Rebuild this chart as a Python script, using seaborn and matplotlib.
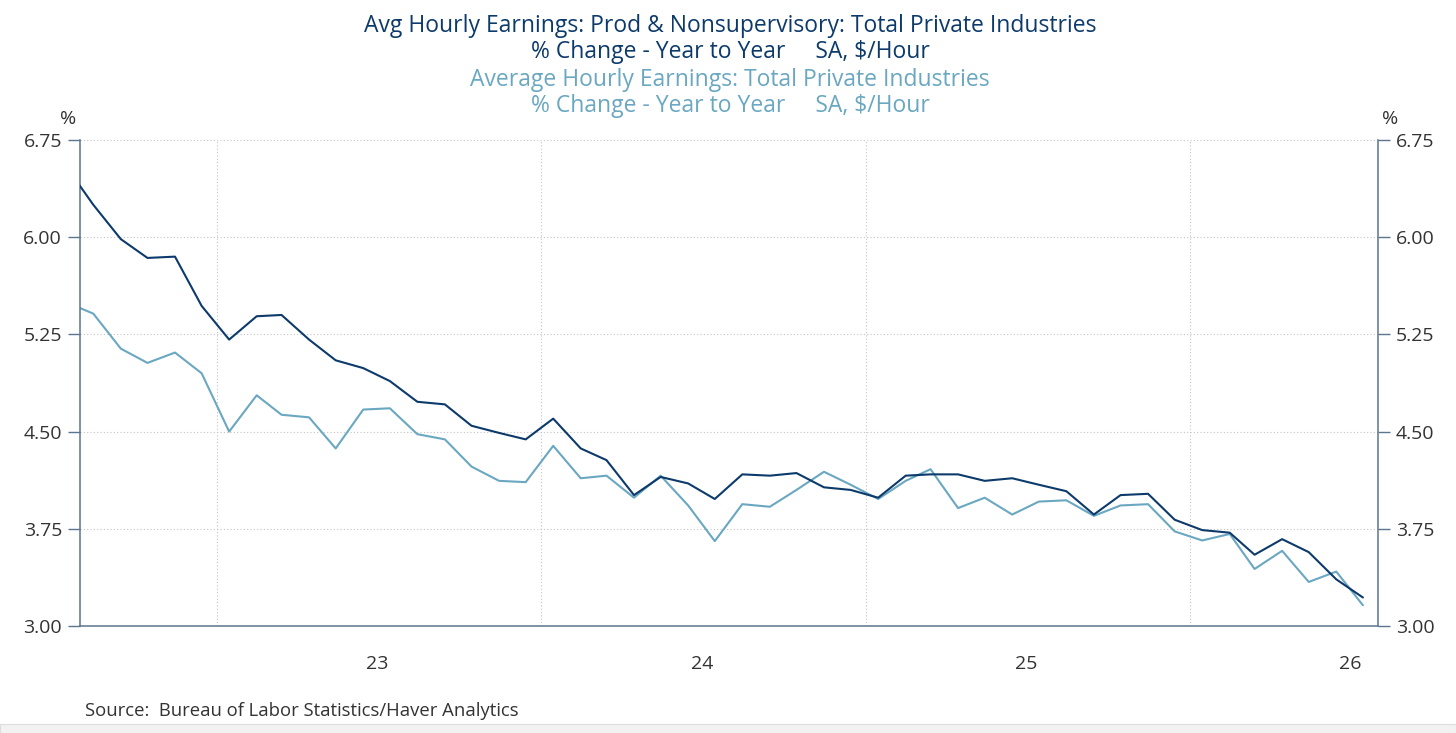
import numpy as np
import pandas as pd
import seaborn as sns
import matplotlib.pyplot as plt
import matplotlib.dates as mdates
from matplotlib.patches import Rectangle

# monthly values, Jul 2022 .. Jul 2026 (yoy % change)
months = pd.date_range("2022-07-01", "2026-07-01", freq="MS") + pd.Timedelta(days=14)

prod_nonsup = [6.55, 6.25, 5.985, 5.84, 5.85, 5.47,
               5.21, 5.39, 5.40, 5.21, 5.05, 4.99, 4.89, 4.73, 4.71, 4.545, 4.49, 4.44,
               4.60, 4.37, 4.28, 4.01, 4.15, 4.10, 3.98, 4.17, 4.16, 4.18, 4.07, 4.05,
               3.99, 4.16, 4.17, 4.17, 4.12, 4.14, 4.09, 4.04, 3.86, 4.01, 4.02, 3.82,
               3.74, 3.72, 3.55, 3.67, 3.57, 3.36, 3.22]

total_private = [5.50, 5.41, 5.14, 5.03, 5.11, 4.95,
                 4.50, 4.78, 4.63, 4.61, 4.37, 4.67, 4.68, 4.48, 4.44, 4.23, 4.12, 4.11,
                 4.39, 4.14, 4.16, 3.99, 4.16, 3.93, 3.655, 3.94, 3.92, 4.05, 4.19, 4.09,
                 3.98, 4.12, 4.21, 3.91, 3.99, 3.86, 3.96, 3.97, 3.85, 3.93, 3.94, 3.73,
                 3.66, 3.71, 3.44, 3.58, 3.34, 3.42, 3.16]

y_ticks = [3.00, 3.75, 4.50, 5.25, 6.00, 6.75]

dark = "#0c3a6b"
light = "#6aa7c1"
spine_col = "#5b7590"
text_col = "#333333"

sns.set_style("white")
plt.rcParams['font.family'] = ['Open Sans', 'DejaVu Sans']

df = pd.DataFrame({"date": list(months) * 2,
                   "value": prod_nonsup + total_private,
                   "series": ["pns"] * len(months) + ["tp"] * len(months)})

fig = plt.figure(figsize=(14.56, 7.33), dpi=100)
ax = fig.add_axes([80 / 1456, 107 / 733, 1298 / 1456, 486 / 733])

sns.lineplot(data=df, x="date", y="value", hue="series", palette=[dark, light],
             linewidth=1.5, legend=False, ax=ax)
# dark line on top
ax.lines[0].set_zorder(3)

ax.set_xlim(pd.Timestamp("2022-07-31"), pd.Timestamp("2026-08-01"))
ax.set_ylim(3.0, 6.75)
ax.set_xlabel("")
ax.set_ylabel("")

ax.set_yticks(y_ticks)
ax.set_yticklabels([f"{v:.2f}" for v in y_ticks])
ax.tick_params(axis="y", left=True, right=True, labelleft=True, labelright=True,
               length=8.5, width=1, color=spine_col, labelsize=14, labelcolor=text_col, pad=4.5)

# year boundary ticks, labels in mid-year
ax.xaxis.set_major_locator(mdates.YearLocator())
ax.xaxis.set_major_formatter(plt.NullFormatter())
ax.xaxis.set_minor_locator(mdates.MonthLocator(bymonth=7))
ax.xaxis.set_minor_formatter(mdates.DateFormatter("%y"))
ax.tick_params(axis="x", which="major", length=12.5, width=1, color=spine_col)
ax.tick_params(axis="x", which="minor", length=0, labelsize=14, labelcolor=text_col, pad=21)

ax.grid(True, which="major", linestyle=(0, (1, 2)), color="#c4c4c4", linewidth=0.8)
ax.set_axisbelow(True)

for side in ["left", "right", "bottom"]:
    ax.spines[side].set_color(spine_col)
    ax.spines[side].set_linewidth(1.1)
ax.spines["top"].set_visible(False)

ax.text(-0.009, 1.025, "%", transform=ax.transAxes, ha="center", va="bottom",
        fontsize=14, color=text_col)
ax.text(1.009, 1.025, "%", transform=ax.transAxes, ha="center", va="bottom",
        fontsize=14, color=text_col)

title_x = 730 / 1456
fig.text(title_x, 1 - 32 / 733, "Avg Hourly Earnings: Prod & Nonsupervisory: Total Private Industries",
         ha="center", va="baseline", fontsize=16.5, color=dark)
fig.text(title_x, 1 - 58 / 733, "% Change - Year to Year     SA, $/Hour",
         ha="center", va="baseline", fontsize=16.5, color=dark)
fig.text(title_x, 1 - 86 / 733, "Average Hourly Earnings: Total Private Industries",
         ha="center", va="baseline", fontsize=16.5, color=light)
fig.text(title_x, 1 - 112 / 733, "% Change - Year to Year     SA, $/Hour",
         ha="center", va="baseline", fontsize=16.5, color=light)

fig.text(85 / 1456, 1 - 711 / 733, "Source:  Bureau of Labor Statistics/Haver Analytics",
         ha="left", va="center", fontsize=13.3, color=text_col)

# grey strip at the bottom of the page
fig.patches.append(Rectangle((0, 0), 1, 9 / 733, transform=fig.transFigure,
                             facecolor="#f2f2f2", edgecolor="#dddddd", linewidth=0.8))

fig.savefig("out.png", dpi=100)
